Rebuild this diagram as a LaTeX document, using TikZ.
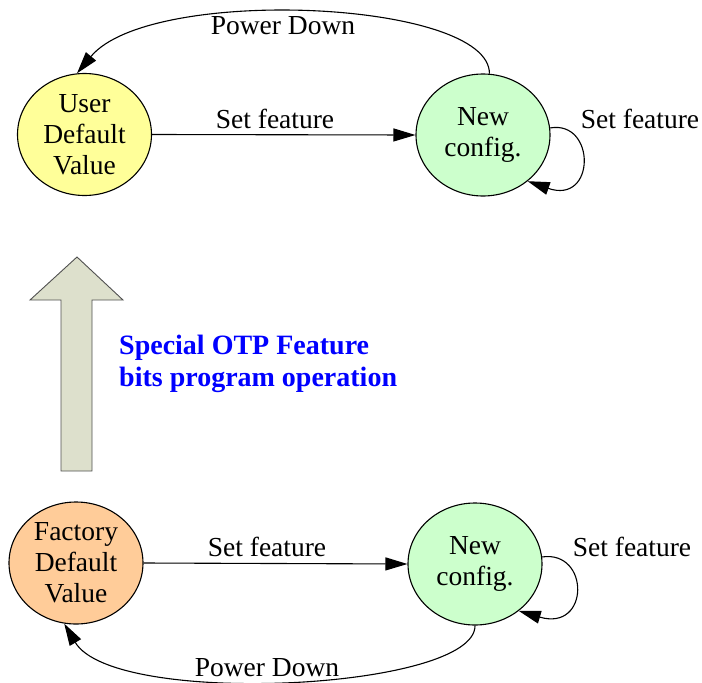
\documentclass[tikz,border=0pt]{standalone}
\usepackage{fontspec}
\setmainfont{Liberation Serif}
\usetikzlibrary{shapes.geometric,arrows.meta}
\definecolor{uyellow}{RGB}{255,255,153}
\definecolor{ngreen}{RGB}{204,255,204}
\definecolor{forange}{RGB}{255,204,153}
\definecolor{bigarrow}{RGB}{221,224,204}
\definecolor{bigborder}{RGB}{80,80,80}
\tikzset{
  state/.style={draw=black, line width=1.1pt, ellipse, inner sep=0pt,
    minimum width=134pt, minimum height=122pt, align=center,
    font=\fontsize{27.5}{31}\selectfont},
  conn/.style={line width=1.1pt, -{Triangle[length=22pt,width=13pt]}},
  lbl/.style={font=\fontsize{27.5}{31}\selectfont, inner sep=0pt},
  bluelbl/.style={font=\fontsize{28}{32}\selectfont\bfseries, text=blue, align=left, inner sep=0pt, anchor=west}
}
\begin{document}
\begin{tikzpicture}[x=1pt,y=-1pt]
\useasboundingbox (0,0) rectangle (702,683);
% top row
\node[state, fill=uyellow] (udv) at (84.5,134.5) {User\\Default\\Value};
\node[state, fill=ngreen] (nc1) at (483,135) {New\\config.};
\draw[conn] (udv.east) -- (nc1.west);
\node[lbl] (sf1) at (275,119) {Set feature};
\draw[conn] (nc1.84) .. controls (490,0) and (150,-15) .. (udv.97);
\node[lbl] (pd1) at (283,26) {Power Down};
\draw[conn] (nc1.6) .. controls (596,120) and (596,205) .. (nc1.-46);
\node[lbl] (sf1b) at (640,119) {Set feature};
% big arrow
\draw[draw=bigborder, line width=0.9pt, fill=bigarrow]
  (61,471) -- (61,300) -- (30,300) -- (77,257) -- (123,300) -- (92,300) -- (92,471) -- cycle;
\node[bluelbl] (otp) at (119,364) {Special OTP Feature\\bits program operation};
% bottom row
\node[state, fill=forange] (fdv) at (76,563) {Factory\\Default\\Value};
\node[state, fill=ngreen] (nc2) at (475,564) {New\\config.};
\draw[conn] (fdv.east) -- (nc2.west);
\node[lbl] (sf2) at (267,547) {Set feature};
\draw[conn] (nc2.-90) .. controls (476,690) and (114,708) .. (fdv.-101);
\node[lbl] (pd2) at (267,668) {Power Down};
\draw[conn] (nc2.6) .. controls (590,550) and (590,632) .. (nc2.-47);
\node[lbl] (sf2b) at (632,547) {Set feature};
\end{tikzpicture}
\end{document}
